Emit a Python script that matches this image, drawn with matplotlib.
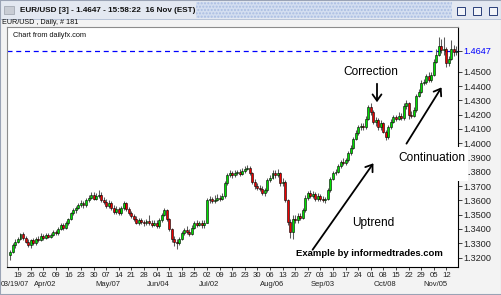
import matplotlib
matplotlib.use('Agg')
import matplotlib.pyplot as plt
from matplotlib.patches import Rectangle, FancyArrowPatch
import matplotlib.transforms as mtransforms
import numpy as np
import pandas as pd

plt.rcParams['font.family'] = ['Liberation Sans', 'DejaVu Sans']

# ---------------- data ----------------
dates = pd.bdate_range('2007-03-14', '2007-11-16')

opens = [1.3215, 1.3240, 1.3290, 1.3310, 1.3330, 1.3365, 1.3340, 1.3310, 1.3290, 1.3320,
         1.3300, 1.3330, 1.3325, 1.3350, 1.3340, 1.3355, 1.3345, 1.3360, 1.3380, 1.3370,
         1.3400, 1.3430, 1.3410, 1.3440, 1.3470, 1.3510, 1.3530, 1.3550, 1.3570, 1.3580,
         1.3565, 1.3600, 1.3620, 1.3640, 1.3610, 1.3630, 1.3640, 1.3600, 1.3590, 1.3560,
         1.3580, 1.3545, 1.3520, 1.3540, 1.3510, 1.3545, 1.3580, 1.3540, 1.3510, 1.3490,
         1.3470, 1.3445, 1.3460, 1.3450, 1.3440, 1.3455, 1.3445, 1.3430, 1.3445, 1.3420,
         1.3460, 1.3500, 1.3530, 1.3470, 1.3400, 1.3330, 1.3310, 1.3300, 1.3330, 1.3370,
         1.3395, 1.3380, 1.3365, 1.3410, 1.3440, 1.3430, 1.3440, 1.3425, 1.3445, 1.3600,
         1.3610, 1.3595, 1.3605, 1.3620, 1.3610, 1.3630, 1.3720, 1.3780, 1.3790, 1.3775,
         1.3790, 1.3800, 1.3785, 1.3805, 1.3820, 1.3830, 1.3790, 1.3730, 1.3700, 1.3690,
         1.3680, 1.3655, 1.3670, 1.3740, 1.3760, 1.3790, 1.3775, 1.3790, 1.3720, 1.3730,
         1.3600, 1.3450, 1.3380, 1.3470, 1.3460, 1.3490, 1.3480, 1.3530, 1.3620, 1.3650,
         1.3630, 1.3645, 1.3610, 1.3630, 1.3610, 1.3600, 1.3610, 1.3670, 1.3750, 1.3790,
         1.3800, 1.3840, 1.3870, 1.3860, 1.3880, 1.3930, 1.3970, 1.4030, 1.4070, 1.4110,
         1.4120, 1.4110, 1.4170, 1.4250, 1.4220, 1.4150, 1.4160, 1.4110, 1.4140, 1.4080,
         1.4040, 1.4110, 1.4150, 1.4180, 1.4170, 1.4190, 1.4175, 1.4260, 1.4280, 1.4200,
         1.4190, 1.4230, 1.4330, 1.4360, 1.4420, 1.4430, 1.4470, 1.4440, 1.4480, 1.4570,
         1.4620, 1.4680, 1.4650, 1.4660, 1.4560, 1.4590, 1.4660, 1.4640]

highs = [1.3250, 1.3300, 1.3330, 1.3345, 1.3375, 1.3380, 1.3350, 1.3330, 1.3330, 1.3340,
         1.3345, 1.3350, 1.3370, 1.3365, 1.3370, 1.3375, 1.3375, 1.3395, 1.3395, 1.3415,
         1.3445, 1.3440, 1.3455, 1.3480, 1.3520, 1.3545, 1.3560, 1.3585, 1.3600, 1.3595,
         1.3615, 1.3640, 1.3660, 1.3660, 1.3650, 1.3670, 1.3660, 1.3625, 1.3610, 1.3600,
         1.3595, 1.3565, 1.3560, 1.3555, 1.3560, 1.3595, 1.3590, 1.3555, 1.3525, 1.3505,
         1.3490, 1.3475, 1.3480, 1.3465, 1.3470, 1.3500, 1.3460, 1.3460, 1.3460, 1.3475,
         1.3515, 1.3550, 1.3540, 1.3480, 1.3410, 1.3350, 1.3330, 1.3345, 1.3385, 1.3410,
         1.3420, 1.3400, 1.3425, 1.3455, 1.3460, 1.3455, 1.3460, 1.3460, 1.3615, 1.3630,
         1.3625, 1.3640, 1.3645, 1.3635, 1.3650, 1.3735, 1.3795, 1.3810, 1.3805, 1.3810,
         1.3815, 1.3820, 1.3825, 1.3840, 1.3850, 1.3840, 1.3800, 1.3750, 1.3720, 1.3710,
         1.3700, 1.3690, 1.3760, 1.3780, 1.3810, 1.3815, 1.3820, 1.3800, 1.3760, 1.3745,
         1.3610, 1.3470, 1.3500, 1.3500, 1.3510, 1.3510, 1.3545, 1.3640, 1.3665, 1.3670,
         1.3665, 1.3660, 1.3650, 1.3645, 1.3630, 1.3625, 1.3690, 1.3765, 1.3805, 1.3820,
         1.3855, 1.3885, 1.3895, 1.3900, 1.3945, 1.3985, 1.4045, 1.4090, 1.4130, 1.4140,
         1.4140, 1.4190, 1.4270, 1.4280, 1.4235, 1.4180, 1.4175, 1.4160, 1.4150, 1.4095,
         1.4125, 1.4170, 1.4200, 1.4200, 1.4215, 1.4210, 1.4280, 1.4300, 1.4285, 1.4225,
         1.4250, 1.4345, 1.4380, 1.4440, 1.4450, 1.4485, 1.4495, 1.4500, 1.4590, 1.4660,
         1.4740, 1.4730, 1.4740, 1.4670, 1.4610, 1.4720, 1.4690, 1.4680]

lows = [1.3185, 1.3230, 1.3270, 1.3300, 1.3320, 1.3325, 1.3300, 1.3275, 1.3270, 1.3285,
        1.3290, 1.3310, 1.3315, 1.3325, 1.3330, 1.3335, 1.3335, 1.3350, 1.3355, 1.3360,
        1.3390, 1.3395, 1.3400, 1.3425, 1.3460, 1.3495, 1.3515, 1.3540, 1.3555, 1.3550,
        1.3555, 1.3590, 1.3610, 1.3600, 1.3600, 1.3620, 1.3590, 1.3575, 1.3545, 1.3550,
        1.3530, 1.3505, 1.3505, 1.3495, 1.3500, 1.3535, 1.3525, 1.3495, 1.3475, 1.3455,
        1.3435, 1.3430, 1.3435, 1.3420, 1.3425, 1.3430, 1.3415, 1.3420, 1.3405, 1.3410,
        1.3450, 1.3490, 1.3455, 1.3385, 1.3310, 1.3280, 1.3260, 1.3285, 1.3320, 1.3360,
        1.3365, 1.3350, 1.3355, 1.3400, 1.3415, 1.3420, 1.3410, 1.3410, 1.3440, 1.3585,
        1.3580, 1.3585, 1.3595, 1.3595, 1.3600, 1.3620, 1.3710, 1.3765, 1.3760, 1.3765,
        1.3780, 1.3770, 1.3775, 1.3795, 1.3810, 1.3775, 1.3715, 1.3680, 1.3670, 1.3665,
        1.3640, 1.3630, 1.3660, 1.3730, 1.3750, 1.3760, 1.3765, 1.3700, 1.3700, 1.3590,
        1.3430, 1.3340, 1.3330, 1.3440, 1.3445, 1.3460, 1.3470, 1.3520, 1.3605, 1.3615,
        1.3620, 1.3595, 1.3595, 1.3595, 1.3590, 1.3585, 1.3600, 1.3660, 1.3740, 1.3775,
        1.3790, 1.3825, 1.3845, 1.3850, 1.3870, 1.3920, 1.3960, 1.4020, 1.4055, 1.4095,
        1.4090, 1.4100, 1.4160, 1.4200, 1.4135, 1.4120, 1.4090, 1.4095, 1.4070, 1.4020,
        1.4030, 1.4100, 1.4140, 1.4155, 1.4160, 1.4160, 1.4165, 1.4240, 1.4170, 1.4175,
        1.4180, 1.4220, 1.4320, 1.4350, 1.4405, 1.4415, 1.4425, 1.4430, 1.4470, 1.4560,
        1.4610, 1.4630, 1.4620, 1.4530, 1.4540, 1.4580, 1.4610, 1.4620]

closes = [1.3240, 1.3290, 1.3310, 1.3330, 1.3365, 1.3340, 1.3310, 1.3290, 1.3320, 1.3300,
          1.3330, 1.3325, 1.3350, 1.3340, 1.3355, 1.3345, 1.3360, 1.3380, 1.3370, 1.3400,
          1.3430, 1.3410, 1.3440, 1.3470, 1.3510, 1.3530, 1.3550, 1.3570, 1.3580, 1.3565,
          1.3600, 1.3620, 1.3640, 1.3610, 1.3630, 1.3640, 1.3600, 1.3590, 1.3560, 1.3580,
          1.3545, 1.3520, 1.3540, 1.3510, 1.3545, 1.3580, 1.3540, 1.3510, 1.3490, 1.3470,
          1.3445, 1.3460, 1.3450, 1.3440, 1.3455, 1.3445, 1.3430, 1.3445, 1.3420, 1.3460,
          1.3500, 1.3530, 1.3470, 1.3400, 1.3330, 1.3310, 1.3300, 1.3330, 1.3370, 1.3395,
          1.3380, 1.3365, 1.3410, 1.3440, 1.3430, 1.3440, 1.3425, 1.3445, 1.3600, 1.3610,
          1.3595, 1.3605, 1.3620, 1.3610, 1.3630, 1.3720, 1.3780, 1.3790, 1.3775, 1.3790,
          1.3800, 1.3785, 1.3805, 1.3820, 1.3830, 1.3790, 1.3730, 1.3700, 1.3690, 1.3680,
          1.3655, 1.3670, 1.3740, 1.3760, 1.3790, 1.3775, 1.3790, 1.3720, 1.3730, 1.3600,
          1.3450, 1.3380, 1.3470, 1.3460, 1.3490, 1.3480, 1.3530, 1.3620, 1.3650, 1.3630,
          1.3645, 1.3610, 1.3630, 1.3610, 1.3600, 1.3610, 1.3670, 1.3750, 1.3790, 1.3800,
          1.3840, 1.3870, 1.3860, 1.3880, 1.3930, 1.3970, 1.4030, 1.4070, 1.4110, 1.4120,
          1.4110, 1.4170, 1.4250, 1.4220, 1.4150, 1.4160, 1.4110, 1.4140, 1.4080, 1.4040,
          1.4110, 1.4150, 1.4180, 1.4170, 1.4190, 1.4175, 1.4260, 1.4280, 1.4200, 1.4190,
          1.4230, 1.4330, 1.4360, 1.4420, 1.4430, 1.4470, 1.4440, 1.4480, 1.4570, 1.4620,
          1.4680, 1.4650, 1.4660, 1.4560, 1.4590, 1.4660, 1.4640, 1.4647]

last_price = 1.4647
price_ticks = [1.32, 1.33, 1.34, 1.35, 1.36, 1.37, 1.38, 1.39, 1.40, 1.41, 1.42, 1.43, 1.44, 1.45]
month_dates = ['2007-04-02', '2007-05-07', '2007-06-04', '2007-07-02', '2007-08-06',
               '2007-09-03', '2007-10-08', '2007-11-05']
month_names = ['Apr/02', 'May/07', 'Jun/04', 'Jul/02', 'Aug/06', 'Sep/03', 'Oct/08', 'Nov/05']
first_label = '03/19/07'
window_title = 'EUR/USD [3] - 1.4647 - 15:58:22  16 Nov (EST)'
chart_header = 'EUR/USD , Daily, # 181'
source_note = 'Chart from dailyfx.com'
credit = 'Example by informedtrades.com'

# ---------------- figure ----------------
W, H = 502, 295
fig = plt.figure(figsize=(W / 100, H / 100), dpi=100, facecolor='#f3f3f3')


def fx(x):
    return x / W


def fy(y):
    return 1 - y / H


# window title bar
fig.patches.append(Rectangle((0, fy(19)), 1, 19 / H, transform=fig.transFigure,
                             facecolor='#e3e8f1', edgecolor='none', zorder=0))
fig.patches.append(Rectangle((fx(196), fy(18)), fx(452) - fx(196), 16 / H, transform=fig.transFigure,
                             facecolor='#d3def0', edgecolor='#a9bde2', hatch='.....', lw=0, zorder=0.5))
fig.patches.append(Rectangle((0, fy(19.5)), 1, 0.6 / H, transform=fig.transFigure,
                             facecolor='#b8c4d8', edgecolor='none', zorder=0.6))
fig.patches.append(Rectangle((fx(4), fy(14)), fx(10), 8 / H, transform=fig.transFigure,
                             facecolor='#c8ccd4', edgecolor='#9aa0aa', lw=0.5, zorder=0.7))
for bx in (457, 473, 489):
    fig.patches.append(Rectangle((fx(bx), fy(15)), fx(8), 8 / H, transform=fig.transFigure,
                                 facecolor='#f2f4f8', edgecolor='#2a3f7a', lw=0.7, zorder=0.7))
fig.text(fx(20), fy(11), window_title, fontsize=5.9, fontweight='bold', color='#111111',
         ha='left', va='center')
fig.text(fx(2), fy(23), chart_header, fontsize=5.2, color='#111111', ha='left', va='center')

# chart axes
ax_left, ax_right, ax_top, ax_bottom = 7, 458, 27, 267
ax = fig.add_axes([fx(ax_left), fy(ax_bottom), fx(ax_right) - fx(ax_left), fy(ax_top) - fy(ax_bottom)])
ax.set_facecolor('white')

xi = np.arange(len(dates))
o = np.array(opens)
c = np.array(closes)
hi = np.array(highs)
lo = np.array(lows)
up = c >= o
ax.vlines(xi, lo, hi, color='#5a5a5a', lw=0.75, zorder=2)
body_h = np.maximum(np.abs(c - o), 0.00025)
ax.bar(xi, body_h, bottom=np.minimum(o, c), width=0.78,
       color=np.where(up, '#00e000', '#ee0000'), edgecolor='black', linewidth=0.4, zorder=3)

ax.axhline(last_price, color='#0000ff', lw=0.9, ls=(0, (4, 3)), zorder=1)

ax.set_xlim(-1.35, 177.6)
ax.set_ylim(1.3134, 1.4813)

for s in ('left', 'top'):
    ax.spines[s].set_color('#8c8c8c')
    ax.spines[s].set_linewidth(0.8)
for s in ('right', 'bottom'):
    ax.spines[s].set_color('black')
    ax.spines[s].set_linewidth(0.8)

ax.yaxis.tick_right()
ax.set_yticks(price_ticks + [last_price])
ax.set_yticklabels(['%.4f' % v for v in price_ticks] + ['%.4f' % last_price])
ax.tick_params(axis='y', length=3, width=0.6, pad=1, labelsize=6.6, colors='#222222')
ylabels = ax.get_yticklabels()
ylabels[-1].set_color('#0000ff')
ax.yaxis.get_major_ticks()[-1].tick2line.set_color('#0000ff')

mondays = [i for i, d in enumerate(dates) if d.weekday() == 0]
ax.set_xticks(mondays)
ax.set_xticklabels(['%02d' % dates[i].day for i in mondays])
ax.tick_params(axis='x', length=2.5, width=0.6, pad=1.3, labelsize=5.6, colors='#222222')

trans = mtransforms.blended_transform_factory(ax.transData, ax.transAxes)
for d, name in zip(month_dates, month_names):
    idx = dates.get_loc(pd.Timestamp(d))
    ax.text(idx + 0.8, -18 / 240, name, transform=trans, ha='center', va='center',
            fontsize=5.5, color='#222222', clip_on=False)
fig.text(fx(0.5), fy(285), first_label, fontsize=5.2, color='#222222', ha='left', va='center')

fig.text(fx(13), fy(35.5), source_note, fontsize=5.3, color='#111111', ha='left', va='center')

# white patch behind "Continuation" overlapping the price scale
fig.patches.append(Rectangle((fx(452), fy(181)), fx(16), 34 / H, transform=fig.transFigure,
                             facecolor='white', edgecolor='none', zorder=3))

fig.text(fx(371), fy(72), 'Correction', fontsize=8.6, color='black', ha='center', va='center', zorder=5)
fig.text(fx(432), fy(158), 'Continuation', fontsize=8.6, color='black', ha='center', va='center',
         zorder=5, bbox=dict(facecolor='white', edgecolor='none', pad=1.0))
fig.text(fx(373), fy(223), 'Uptrend', fontsize=8.6, color='black', ha='center', va='center', zorder=5)
fig.text(fx(369.5), fy(253.5), credit, fontsize=6.8, fontweight='bold', color='black',
         ha='center', va='center', zorder=5)

arrows = [((377, 81), (377, 105)), ((311, 252), (375, 161)), ((405, 146), (443, 85))]
for (x0, y0), (x1, y1) in arrows:
    fig.add_artist(FancyArrowPatch((fx(x0), fy(y0)), (fx(x1), fy(y1)), transform=fig.transFigure,
                                   arrowstyle='->,head_length=0.45,head_width=0.32', mutation_scale=10,
                                   lw=1.3, color='black', zorder=6))

# outer frame
fig.patches.append(Rectangle((0, 0), 1, 1, transform=fig.transFigure, facecolor='none',
                             edgecolor='#9aa3b5', lw=1.5, zorder=7))

fig.savefig('out.png', dpi=100, facecolor=fig.get_facecolor())
